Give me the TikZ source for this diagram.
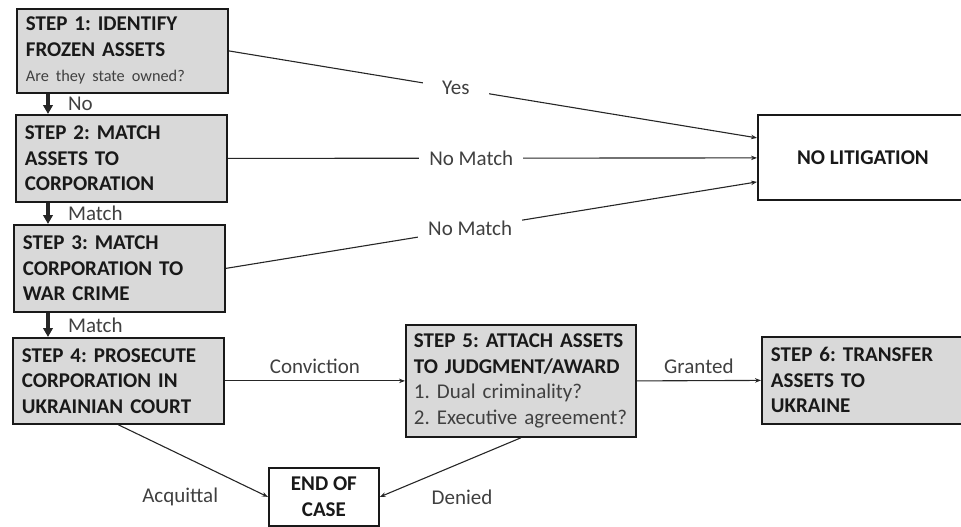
\documentclass[tikz,border=0pt]{standalone}
\usepackage{fontspec}
\setmainfont{Carlito}
\usepackage{xcolor}
\usepackage{tikz}
\usetikzlibrary{arrows.meta,positioning}
\definecolor{boxgray}{HTML}{D9D9D9}
\definecolor{labelgray}{HTML}{404040}
\tikzset{>={Stealth[length=6pt,width=4.5pt]}}
\frenchspacing
\hyphenpenalty=10000
\newcommand{\stepfont}{\fontsize{21}{25.5}\selectfont\bfseries}
\newcommand{\qfont}{\fontsize{21}{25.5}\selectfont\mdseries\color{labelgray}}

\begin{document}
\begin{tikzpicture}[x=1pt, y=-1pt,
                    stepbox/.style={draw=black!90, line width=1.8pt, fill=boxgray, anchor=north west,
                                    align=left, inner xsep=9pt, inner ysep=2pt, text=black!90, font=\stepfont},
                    endbox/.style={draw=black!90, line width=1.8pt, fill=white, anchor=north west,
                                   align=center, text=black!90, font=\stepfont},
                    conn/.style={line width=1.1pt, black!85, ->},
                    downarrow/.style={line width=3.5pt, black!85, -{Triangle[length=9pt,width=9.5pt]}},
                    lbl/.style={font=\fontsize{21}{25}\selectfont, text=labelgray},
                    gap/.style={fill=white, inner xsep=10pt, inner ysep=3pt},
                   ]

\useasboundingbox (0,0) rectangle (961,527);

% steps down the left side
\node[stepbox, text width=193pt, minimum height=84pt] (s1) at (16,8)
  {STEP 1: IDENTIFY\\FROZEN ASSETS\\{\fontsize{16.3}{25.5}\selectfont\mdseries\color{labelgray}Are they state owned?}};
\node[stepbox, text width=193pt, minimum height=87pt] (s2) at (15,114)
  {STEP 2: MATCH\\ASSETS TO\\CORPORATION};
\node[stepbox, text width=193pt, minimum height=87pt] (s3) at (13,224)
  {STEP 3: MATCH\\CORPORATION TO\\WAR CRIME};
\node[stepbox, text width=193pt, minimum height=86pt] (s4) at (12,337)
  {STEP 4: PROSECUTE\\CORPORATION IN\\UKRAINIAN COURT};

\node[stepbox, inner xsep=8pt, text width=214pt, minimum height=112pt] (s5) at (405,324)
  {STEP 5: ATTACH ASSETS\\TO JUDGMENT/AWARD\\{\qfont 1. Dual criminality?}\\{\qfont 2. Executive agreement?}};
\node[stepbox, text width=192pt, minimum height=87pt] (s6) at (761,336)
  {STEP 6: TRANSFER\\ASSETS TO\\UKRAINE};

\node[endbox, minimum width=210pt, minimum height=85pt] (nolit) at (757,114) {NO LITIGATION};
\node[endbox, minimum width=110pt, minimum height=58pt] (endcase) at (268,467) {END OF\\CASE};

\draw[downarrow] ([xshift=32pt]s1.south west) -- ([xshift=33pt]s2.north west) node[lbl, midway, right=15pt]{No};
\draw[downarrow] ([xshift=33pt]s2.south west) -- ([xshift=35pt]s3.north west) node[lbl, midway, right=15pt]{Match};
\draw[downarrow] ([xshift=35pt]s3.south west) -- ([xshift=36pt]s4.north west) node[lbl, midway, right=15pt]{Match};

\draw[conn] (s1.east) -- node[lbl, gap, inner xsep=19pt, pos=0.43]{Yes} ([yshift=19.5pt]nolit.west);
\draw[conn] (s2.east) -- node[lbl, gap, pos=0.46]{No Match} ([yshift=-0.5pt]nolit.west);
\draw[conn] (s3.east) -- node[lbl, gap, pos=0.46]{No Match} ([yshift=-24.5pt]nolit.west);

\draw[conn] (s4.east) -- node[lbl, above=3pt]{Conviction} (s5.west);
\draw[conn] (s5.east) -- node[lbl, above=3pt]{Granted} (s6.west);
\draw[conn] (s4.south) -- node[lbl, pos=1, left=46pt]{Acquittal} (endcase.west);
\draw[conn] (s5.south) -- node[lbl, pos=1, right=48pt]{Denied} (endcase.east);

\end{tikzpicture}
\end{document}
